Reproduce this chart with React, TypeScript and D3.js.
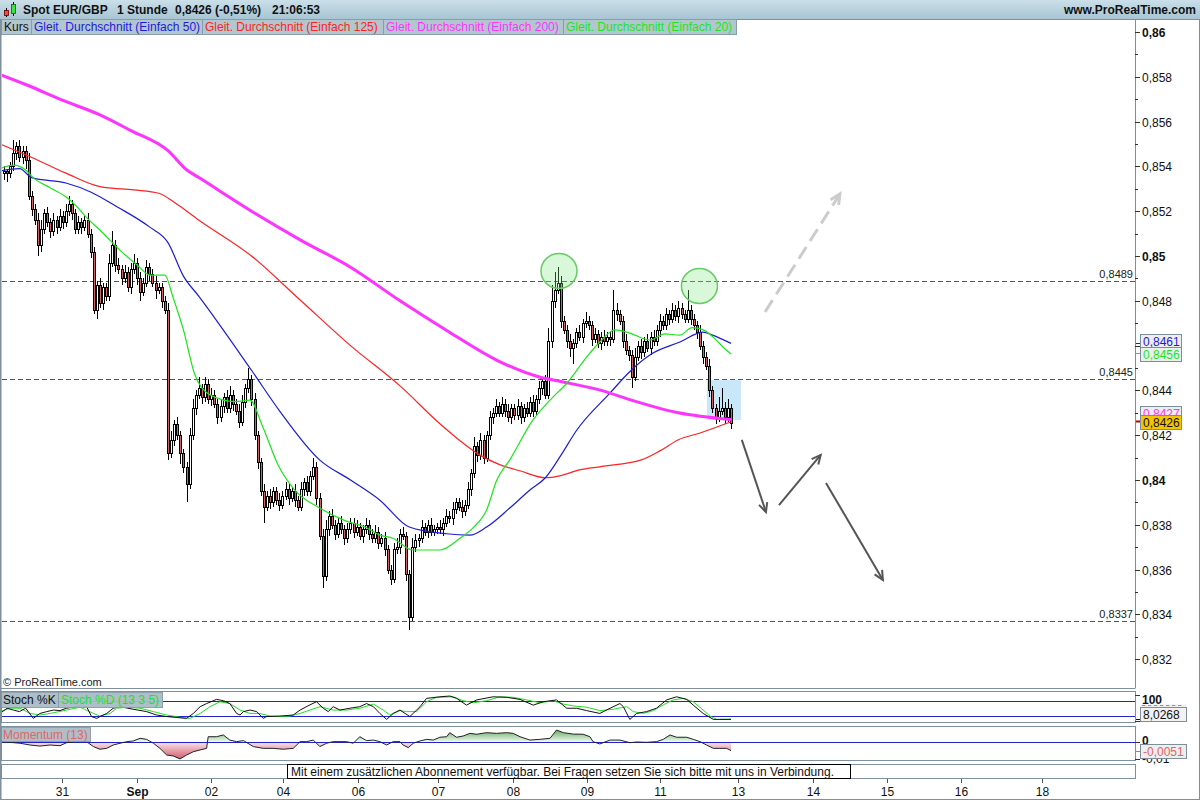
import React, { useEffect } from 'react';
import * as d3 from 'd3';

// ---------- DATA (prices in pips: price = 0.8 + v / 10000) ----------
const firstOpen = 537;
const closes = [
  538,537,540,546,549,544,547,543,527,521,
  516,505,512,519,515,511,516,513,518,515,
  520,523,519,512,515,513,516,510,502,476,
  487,479,486,482,497,505,496,494,490,493,
  486,494,497,490,484,488,495,492,488,485,
  486,480,476,412,418,425,420,412,406,398,
  420,432,438,441,437,443,436,438,434,428,
  433,437,432,438,434,431,426,435,441,445,
  436,420,408,395,388,393,390,395,391,389,
  393,396,392,395,391,388,396,399,395,402,
  406,392,375,357,378,384,380,376,381,378,
  374,378,381,377,379,375,378,380,376,374,
  377,372,374,369,360,356,369,370,376,375,
  358,339,370,373,374,379,377,380,377,378,
  379,378,381,384,383,387,390,388,386,389,
  396,403,415,411,418,410,420,428,430,433,
  430,434,431,428,432,429,433,428,432,430,
  435,431,436,441,444,438,462,480,485,488,
  471,467,462,459,461,466,464,470,471,469,
  463,465,461,464,462,464,463,476,474,471,
  462,458,456,446,455,460,457,462,459,464,
  462,467,471,469,474,472,476,473,477,474,
  472,476,472,469,466,460,455,451,440,432,
  428,431,432,428,432,425.6,
];
const upperWick = [
  2,1,2,6,2,3,2,2,3,2,
  2,3,4,2,3,2,3,2,3,2,
  3,4,2,2,3,2,2,3,2,2,
  2,3,2,2,4,6,2,3,2,3,
  2,3,4,2,3,2,3,2,2,3,
  2,2,2,3,4,2,3,2,2,2,
  3,4,2,5,2,3,2,3,2,2,
  3,2,3,4,2,2,3,3,2,5,
  2,3,2,2,3,2,3,2,2,3,
  2,3,2,2,3,2,3,2,3,2,
  4,2,2,3,4,2,3,2,2,3,
  2,3,2,2,3,2,2,3,2,2,
  3,2,2,3,2,2,3,4,2,3,
  2,2,4,3,2,3,2,2,3,2,
  2,3,2,3,2,3,2,2,3,2,
  3,2,4,2,3,2,2,3,2,3,
  2,3,2,3,2,2,3,2,2,3,
  2,3,2,3,2,3,6,7,8,7,
  3,2,2,3,2,2,3,2,4,2,
  2,3,2,2,3,2,2,9,3,2,
  2,3,2,2,4,2,3,2,3,2,
  3,2,3,2,3,2,3,2,3,2,
  2,9,2,2,2,3,2,2,3,2,
  2,6,9,3,4,2,
];
const lowerWick = [
  3,4,2,2,3,2,3,4,2,3,
  2,5,3,2,2,3,2,3,2,3,
  2,2,3,2,2,3,2,2,3,2,
  4,2,3,2,2,2,3,2,3,2,
  2,3,2,3,4,2,2,3,2,4,
  2,3,2,3,2,3,2,5,3,8,
  2,2,3,2,3,2,2,3,2,3,
  2,3,2,2,3,2,3,2,3,2,
  3,2,3,2,7,2,3,2,2,3,
  2,2,3,2,3,2,2,3,2,2,
  2,3,2,5,2,3,2,3,2,2,
  3,2,2,3,2,2,3,2,3,2,
  2,3,2,3,2,3,2,2,3,2,
  3,6,2,2,3,2,2,3,2,2,
  2,2,3,2,2,3,2,2,3,2,
  2,3,2,3,2,3,2,2,3,2,
  2,2,3,2,3,2,2,3,2,2,
  2,3,2,2,3,2,2,3,3,2,
  3,2,3,4,7,2,2,3,2,2,
  3,2,2,3,2,2,3,2,3,2,
  3,2,3,5,2,2,3,2,2,3,
  2,2,3,2,2,3,2,2,3,2,
  2,2,3,2,3,2,3,2,3,2,
  3,2,2,3,2,3,
];

// moving averages: [candle index, pips]
const ma20 = [[-1.3,539],[3,540.6],[7,538.4],[9.4,535],[15,530.4],[20.4,526],[23.6,522],[26.8,517],[31,511.6],[34.3,507],[38.5,501.3],[43,496],[47.2,491.5],[52,491.5],[54.6,481.7],[58,467],[61.7,447],[66.6,438],[74.7,435],[79.5,435.7],[83.4,424.6],[88.6,406.7],[94,395.5],[102,387.5],[110,382],[116.7,379],[121.5,375.4],[125.7,374],[132,368.75],[141,368.75],[147.4,374],[151.6,378.6],[156,386.6],[159.3,400],[163.5,409],[171,426.8],[176.5,435.7],[182,443.3],[188.4,455],[192.6,461.6],[197.5,467],[202.3,465.6],[208.8,462.5],[213.6,465.2],[218.5,464.7],[222.4,468],[226,467],[229.2,463.8],[232.4,459.4],[235,456.25]];
const ma50 = [[-1.3,538],[5,539],[9,535],[20,532.6],[28,528.6],[36.5,522],[47,513],[53,506],[58,491],[63,482],[80,449],[89,431],[102,409],[112,400],[121.5,391],[131,379],[143,376],[150.6,375.4],[156,379],[163.5,387.5],[170,395.5],[175,401],[180,411],[185,422],[196,439],[202,448],[209,456],[218.5,461.6],[226,466],[229,464.7],[235,461]];
const ma125 = [[-1.3,550],[9,544],[20,537],[31,531],[42,529.5],[50,528],[55,524],[63,516],[80,500],[96,480],[112,460],[128,442],[141,425],[147,418],[154,411],[160,407],[167,404],[175,401],[180,402],[186,404.5],[193,406],[206,409],[212,413],[218,418],[225,421],[235,426]];
const ma200 = [[-1.3,581],[8,576],[18,570],[31,563],[41,556],[53,547],[59,538.5],[63,535],[80,520],[96,507],[112,495],[128,480],[144,466],[160,453],[173,446],[180,444],[193,440],[202,436],[218,430],[235,427]];

// stochastic (%K, %D) and momentum (thousandths): [candle index, value]
const stochK = [[-1.3,31],[1,51],[3,44],[5,38],[7,51],[9.5,12],[11.6,31],[13.8,38],[16,44],[18.1,42],[20.2,51],[24.6,60],[26.7,57],[28.3,19],[30,12],[31,19],[33.2,31],[35.3,51],[37.5,57],[41.8,47],[46.1,38],[49.3,25],[52.6,19],[59,12],[61.2,31],[63.4,57],[65.5,69],[68.7,85],[70.9,80],[73,69],[75.2,31],[76.3,25],[77.4,38],[79.5,44],[81.7,38],[83.8,12],[84.9,19],[89.2,21],[93.5,25],[95.7,44],[98.9,64],[101,76],[103.2,51],[104.8,38],[106.4,57],[108.6,44],[111.8,51],[115,57],[117.2,69],[119.4,57],[121.5,31],[123.7,8],[125.8,31],[128,44],[131.2,19],[134.5,57],[136.6,89],[140.9,95],[144.1,98],[146.3,89],[149.5,63],[152.8,83],[158.1,95],[162.5,93],[166.8,85],[171.1,63],[174.3,76],[178.6,83],[181.9,51],[185.1,51],[188.3,42],[192.6,31],[195.9,51],[199.1,69],[200.2,57],[202.3,8],[204.5,31],[207.7,38],[210.9,51],[214.2,83],[217.4,95],[220.7,85],[222.8,63],[226,31],[229.3,8],[231.4,8],[235,8]];
const stochD = [[-1.3,38],[2,51],[5.2,51],[8.4,31],[11.6,25],[14.9,31],[20.2,44],[24.6,55],[28.9,31],[31,21],[34.3,31],[36.4,51],[39.7,55],[44,51],[48.3,38],[52.6,25],[56.9,16],[60.1,12],[63.4,31],[66.6,57],[69.8,76],[73,69],[76.3,44],[79.5,31],[82.7,31],[86,21],[89.2,19],[92.4,21],[95.7,31],[98.9,44],[102.1,57],[106.4,44],[110.7,44],[115,51],[119.4,67],[122.6,44],[124.7,25],[128,42],[130.1,38],[133.4,38],[136.6,76],[139.8,93],[145.2,95],[148.4,80],[151.7,72],[156,80],[160.3,95],[164.6,93],[169,83],[173.2,72],[177.5,80],[180.8,67],[184,60],[188.3,55],[192.6,42],[196.9,47],[201.3,57],[203.4,38],[206.7,31],[209.9,42],[213.1,64],[216.3,83],[219.6,89],[222.8,76],[226,44],[228.2,21],[230.4,8],[235,9]];
const momentum = [[-1.3,0],[1.9,-0.4],[5.2,-0.9],[8.4,-1.9],[11.6,-2.5],[14.9,-1.9],[18.1,-2.3],[20.2,-0.6],[23.5,0],[26.7,0],[28.9,-2.8],[31,-4.3],[33.2,-3.8],[35.3,-1.9],[37.5,-0.9],[39.7,0],[41.8,0.4],[44,1.9],[46.1,1.3],[48.3,-0.9],[50.4,-3.8],[52.6,-7.6],[54.7,-8.1],[56.9,-9.8],[59,-7.6],[61.2,-5.7],[63.4,-4.7],[65.5,-3.8],[66,2.8],[68.7,2.8],[70.9,3.8],[73,0.9],[75.2,0],[77.4,0.6],[80.6,-2.8],[83.8,-3.8],[87,-3.8],[90.3,-4.3],[93.5,-3.8],[95.7,0],[97.8,0],[100,0.9],[102.1,-2.8],[104.3,-0.9],[106.4,0],[110.7,0],[112.9,-0.9],[115,2.8],[117.2,0.6],[119.4,0.9],[121.5,0],[123.7,-1.9],[125.8,0],[128,0],[129,-1.9],[130.7,-3.4],[132.3,-0.9],[134.5,0.4],[136.6,1.3],[138.8,0.9],[140.9,2.5],[143.1,2.8],[144.1,5.1],[146.3,2.5],[148.4,3.2],[150.6,4.7],[152.8,4.2],[156,5.1],[159.2,4.7],[162.5,5.1],[164.6,4.7],[166.8,2.8],[170,0.9],[173.2,1.3],[176.5,1.9],[178.6,6.6],[180.8,5.1],[184,4.3],[187.2,4.2],[189.4,2.8],[190.4,0],[192.6,-1.3],[195.9,0.9],[199.1,0.9],[202.3,-0.6],[204.5,-0.2],[207.7,-0.4],[210.9,0],[213.1,1.3],[215.3,3.8],[217.4,2.5],[220.7,2.5],[222.8,1.3],[225,0],[227.1,-1.9],[229.3,-3.8],[231.4,-3.8],[233.6,-3.8],[235,-5.1]];

const priceTicks = [0.832,0.834,0.836,0.838,0.84,0.842,0.844,0.846,0.848,0.85,0.852,0.854,0.856,0.858,0.86];
const hiddenPriceLabels = [0.846]; // covered by the value boxes in the reference
const dateTickIdx = [18.8,42.9,66.8,90.1,114.5,140.2,164.4,188.3,212,237.3,261.4,285.5,309.5,335.6];
const dateTickLabels = ['31','Sep','02','04','06','07','08','09','11','13','14','15','16','18'];
const levels = [0.8489, 0.8445, 0.8337];
const lastValues = { ma50: 0.8461, ma20: 0.8456, ma200: 0.8427, close: 0.8426, stochK: 8.0268, mom: -0.0051 };

// annotations in (candle index, pips)
const ellipses = [[179.4, 493.3], [224.8, 486.6]];
const blueZone = [227.2, 238.2, 444.6, 426.8];
const dashedArrow = [[246, 475], [270.2, 527.7]];
const solidArrows = [
  [[238.5, 417.9], [246.3, 385.7]],
  [[250.5, 388.8], [264, 411.2]],
  [[265.7, 398.7], [284.1, 355.4]],
];

const FONT = 'Liberation Sans, Arial, sans-serif';
const C_BLUE = '#1c1cd6', C_RED = '#ff2323', C_MAG = '#ff33ff', C_GREEN = '#1de41d';
const BORDER = '#7f8f9c';

function fmt(v: number, digits?: number) {
  const s = digits != null ? v.toFixed(digits) : String(+v.toFixed(4));
  return s.replace('.', ',');
}

function arrowHead(x1: number, y1: number, x2: number, y2: number, len = 10, ang = 0.45) {
  const a = Math.atan2(y2 - y1, x2 - x1);
  const p1 = [x2 - len * Math.cos(a - ang), y2 - len * Math.sin(a - ang)];
  const p2 = [x2 - len * Math.cos(a + ang), y2 - len * Math.sin(a + ang)];
  return `M${p1[0]},${p1[1]}L${x2},${y2}L${p2[0]},${p2[1]}`;
}

export default function App() {
  useEffect(() => { document.body.style.margin = '0'; }, []);

  const x = d3.scaleLinear().domain([0, 235]).range([4, 731]);
  const yMain = d3.scaleLinear().domain([0.832, 0.86]).range([659.2, 32]);
  const yP = (v: number) => yMain(0.8 + v / 10000);
  const yStoch = d3.scaleLinear().domain([0, 100]).range([721.5, 695.5]);
  const yMom = d3.scaleLinear().domain([-0.01, 0.007]).range([759.3, 729.3]);

  const maLine = d3.line<number[]>().x(d => x(d[0])).y(d => yP(d[1])).curve(d3.curveMonotoneX);
  const stLine = d3.line<number[]>().x(d => x(d[0])).y(d => yStoch(d[1]));
  const momLine = d3.line<number[]>().x(d => x(d[0])).y(d => yMom(d[1] / 1000));
  const momArea = d3.area<number[]>().x(d => x(d[0])).y0(yMom(0)).y1(d => yMom(d[1] / 1000));

  const candles = closes.map((c, i) => {
    const o = i === 0 ? firstOpen : closes[i - 1];
    return { i, o, c, h: Math.max(o, c) + upperWick[i], l: Math.min(o, c) - lowerWick[i] };
  });

  const box = (key: string, bx: number, cy: number, w: number, text: string, color: string, bg: string) => (
    <g key={key}>
      <rect x={bx + 0.5} y={Math.round(cy - 7) + 0.5} width={w} height={14} fill={bg} stroke="#7d8d9a" />
      <text x={bx + 3} y={Math.round(cy - 7) + 12} fontSize={12} fill={color} fontFamily={FONT}>{text}</text>
    </g>
  );

  const zeroY = yMom(0);

  return (
    <svg width={1200} height={800} style={{ position: 'absolute', left: 0, top: 0, display: 'block', background: '#fff' }} fontFamily={FONT}>
      <defs>
        <linearGradient id="hdr" x1="0" y1="0" x2="0" y2="1">
          <stop offset="0" stopColor="#cadfe9" />
          <stop offset="1" stopColor="#a8c5d3" />
        </linearGradient>
        <linearGradient id="gpos" gradientUnits="userSpaceOnUse" x1="0" y1="729" x2="0" y2={zeroY}>
          <stop offset="0" stopColor="#5aa55a" />
          <stop offset="1" stopColor="#eef8ee" />
        </linearGradient>
        <linearGradient id="gneg" gradientUnits="userSpaceOnUse" x1="0" y1={zeroY} x2="0" y2="760">
          <stop offset="0" stopColor="#fbe6e9" />
          <stop offset="1" stopColor="#cf5468" />
        </linearGradient>
        <clipPath id="clipMain"><rect x={2} y={20} width={1133} height={668} /></clipPath>
        <clipPath id="clipSt"><rect x={2} y={692} width={1133} height={31} /></clipPath>
        <clipPath id="clipPos"><rect x={2} y={727} width={1133} height={zeroY - 727} /></clipPath>
        <clipPath id="clipNeg"><rect x={2} y={zeroY} width={1133} height={761 - zeroY} /></clipPath>
      </defs>

      {/* header */}
      <rect x={0} y={0} width={1200} height={19} fill="url(#hdr)" />
      <line x1={0} x2={1200} y1={19.5} y2={19.5} stroke={BORDER} />
      <line x1={6.5} x2={6.5} y1={8} y2={17} stroke="#000" />
      <rect x={4.5} y={10.5} width={4} height={5} fill="#e05050" stroke="#600" strokeWidth={0.8} />
      <line x1={13.5} x2={13.5} y1={2} y2={16} stroke="#000" />
      <rect x={11.5} y={4.5} width={4} height={9} fill="#40e040" stroke="#060" strokeWidth={0.8} />
      <text x={23} y={14} fontSize={12} fontWeight="bold" fill="#111">Spot EUR/GBP</text>
      <text x={117} y={14} fontSize={12} fontWeight="bold" fill="#111">1 Stunde</text>
      <text x={175} y={14} fontSize={12} fontWeight="bold" fill="#111">0,8426 (-0,51%)</text>
      <text x={272} y={14} fontSize={12} fontWeight="bold" fill="#111">21:06:53</text>
      <text x={1196} y={14} fontSize={12} fontWeight="bold" fill="#111" textAnchor="end">www.ProRealTime.com</text>

      {/* main panel frame */}
      <line x1={1135.5} x2={1135.5} y1={19} y2={688} stroke={BORDER} />
      <line x1={1} x2={1135.5} y1={688.5} y2={688.5} stroke={BORDER} />

      {/* support / resistance levels */}
      {levels.map(l => (
        <g key={l}>
          <line x1={2} x2={1135} y1={Math.round(yMain(l)) + 0.5} y2={Math.round(yMain(l)) + 0.5} stroke="#555" strokeDasharray="5,3" />
          <text x={1133} y={Math.round(yMain(l)) - 3} fontSize={11} textAnchor="end" fill="#222">{fmt(l, 4)}</text>
        </g>
      ))}

      <g clipPath="url(#clipMain)">
        {/* blue zone */}
        <rect x={x(blueZone[0])} y={yP(blueZone[2])} width={x(blueZone[1]) - x(blueZone[0])} height={yP(blueZone[3]) - yP(blueZone[2])} fill="#c8e7f8" />

        {/* candles */}
        {candles.map(d => {
          const cx = Math.round(x(d.i));
          const yt = Math.round(yP(Math.max(d.o, d.c)));
          let yb = Math.round(yP(Math.min(d.o, d.c)));
          if (yb - yt < 1) yb = yt + 1;
          return (
            <g key={d.i}>
              <line x1={cx + 0.5} x2={cx + 0.5} y1={Math.round(yP(d.h))} y2={Math.round(yP(d.l))} stroke="#000" />
              <rect x={cx - 0.5} y={yt + 0.5} width={2} height={yb - yt} fill={d.c >= d.o ? '#ffffff' : '#d06262'} stroke="#000" />
            </g>
          );
        })}

        {/* moving averages */}
        <path d={maLine(ma125 as any) || ''} fill="none" stroke={C_RED} strokeWidth={1.2} />
        <path d={maLine(ma50 as any) || ''} fill="none" stroke={C_BLUE} strokeWidth={1.2} />
        <path d={maLine(ma200 as any) || ''} fill="none" stroke={C_MAG} strokeWidth={3} />
        <path d={maLine(ma20 as any) || ''} fill="none" stroke={C_GREEN} strokeWidth={1.2} />

        {/* highlight circles */}
        {ellipses.map((e, k) => (
          <ellipse key={k} cx={x(e[0])} cy={yP(e[1])} rx={18} ry={17.5} fill="rgba(130,230,130,0.3)" stroke="#66cc66" strokeWidth={1.5} />
        ))}

        {/* scenario arrows */}
        <path d={`M${x(dashedArrow[0][0])},${yP(dashedArrow[0][1])}L${x(dashedArrow[1][0])},${yP(dashedArrow[1][1])}`} stroke="#cccccc" strokeWidth={3} strokeDasharray="14,7" fill="none" />
        <path d={arrowHead(x(dashedArrow[0][0]), yP(dashedArrow[0][1]), x(dashedArrow[1][0]), yP(dashedArrow[1][1]), 11)} stroke="#cccccc" strokeWidth={3} fill="none" />
        {solidArrows.map((a, k) => {
          const x1 = x(a[0][0]), y1 = yP(a[0][1]), x2 = x(a[1][0]), y2 = yP(a[1][1]);
          return (
            <g key={k}>
              <path d={`M${x1},${y1}L${x2},${y2}`} stroke="#555" strokeWidth={2} fill="none" />
              <path d={arrowHead(x1, y1, x2, y2, 10)} stroke="#555" strokeWidth={2} fill="none" />
            </g>
          );
        })}
      </g>

      {/* legend row */}
      {[
        { x0: 1, w: 30, t: 'Kurs', c: '#111' },
        { x0: 31, w: 171, t: 'Gleit. Durchschnitt (Einfach 50)', c: C_BLUE },
        { x0: 202, w: 181, t: 'Gleit. Durchschnitt (Einfach 125)', c: C_RED },
        { x0: 383, w: 180, t: 'Gleit. Durchschnitt (Einfach 200)', c: C_MAG },
        { x0: 563, w: 173, t: 'Gleit. Durchschnitt (Einfach 20)', c: C_GREEN },
      ].map(b => (
        <g key={b.t}>
          <rect x={b.x0 + 0.5} y={19.5} width={b.w} height={15} fill="#b2c6d0" stroke="#8a9cab" />
          <text x={b.x0 + 3} y={31} fontSize={12} fill={b.c}>{b.t}</text>
        </g>
      ))}

      <text x={3} y={686} fontSize={11} fill="#222">© ProRealTime.com</text>

      {/* right axis main */}
      {priceTicks.map(t => {
        const yy = Math.round(yMain(t)) + 0.5;
        const bold = Math.abs(t * 100 - Math.round(t * 100)) < 1e-6;
        const hidden = hiddenPriceLabels.some(h => Math.abs(h - t) < 1e-9);
        return (
          <g key={t}>
            <line x1={1135} x2={1140} y1={yy} y2={yy} stroke="#333" />
            <line x1={1135} x2={1138} y1={Math.round(yMain(t + 0.001)) + 0.5} y2={Math.round(yMain(t + 0.001)) + 0.5} stroke="#333" />
            {!hidden && <text x={1142} y={yy + 4.5} fontSize={12} fontWeight={bold ? 'bold' : 'normal'} fill="#111">{fmt(t)}</text>}
          </g>
        );
      })}
      <line x1={1136} x2={1141} y1={Math.round(yMain(lastValues.ma50)) + 0.5} y2={Math.round(yMain(lastValues.ma50)) + 0.5} stroke={C_BLUE} />
      <line x1={1136} x2={1141} y1={Math.round(yMain(lastValues.ma20)) - 1.5} y2={Math.round(yMain(lastValues.ma20)) - 1.5} stroke={C_GREEN} />
      <line x1={1136} x2={1141} y1={Math.round(yMain(lastValues.close)) - 0.5} y2={Math.round(yMain(lastValues.close)) - 0.5} stroke="#b00" strokeWidth={2} />
      {box('b50', 1140, yMain(lastValues.ma50) - 2, 41, fmt(lastValues.ma50, 4), C_BLUE, '#eeeeee')}
      {box('b20', 1140, yMain(lastValues.ma20) - 1, 41, fmt(lastValues.ma20, 4), C_GREEN, '#eeeeee')}
      {box('b200', 1140, yMain(lastValues.ma200) - 7, 41, fmt(lastValues.ma200, 4), C_MAG, '#eeeeee')}
      {box('bc', 1140, yMain(lastValues.close), 41, fmt(lastValues.close, 4), '#111', '#f5c400')}

      {/* stochastic panel */}
      <rect x={1.5} y={691.5} width={1134} height={31} fill="#fff" stroke={BORDER} />
      <line x1={2} x2={1135} y1={Math.round(yStoch(80)) + 0.5} y2={Math.round(yStoch(80)) + 0.5} stroke="#2222cc" />
      <line x1={2} x2={1135} y1={Math.round(yStoch(20)) + 0.5} y2={Math.round(yStoch(20)) + 0.5} stroke="#2222cc" />
      <g clipPath="url(#clipSt)">
        <path d={stLine(stochD as any) || ''} fill="none" stroke="#22e022" strokeWidth={1} />
        <path d={stLine(stochK as any) || ''} fill="none" stroke="#111" strokeWidth={1} />
      </g>
      <rect x={1.5} y={692.5} width={57} height={15} fill="#a9bcc7" stroke="#8a9cab" opacity={0.95} />
      <text x={3} y={704} fontSize={12} fill="#111">Stoch %K</text>
      <rect x={58.5} y={692.5} width={104} height={15} fill="#a9bcc7" stroke="#8a9cab" opacity={0.95} />
      <text x={61} y={704} fontSize={12} fill="#22e022">Stoch %D (13 3 5)</text>
      <line x1={1135} x2={1140} y1={695.5} y2={695.5} stroke="#333" />
      <line x1={1135} x2={1140} y1={721.5} y2={721.5} stroke="#333" />
      <text x={1142} y={704} fontSize={12} fontWeight="bold" fill="#111">100</text>
      <line x1={1136} x2={1141} y1={719.5} y2={719.5} stroke="#111" />
      <g>
        <rect x={1140.5} y={704.5} width={46} height={3} fill="#eeeeee" stroke="none" />
        <line x1={1142} x2={1184} y1={705.5} y2={705.5} stroke="#22e022" strokeDasharray="3,3" />
      </g>
      {box('sk', 1140, 714, 46, fmt(lastValues.stochK, 4), '#111', '#f2f2f2')}

      {/* momentum panel */}
      <rect x={1.5} y={726.5} width={1134} height={34} fill="#fff" stroke={BORDER} />
      <g clipPath="url(#clipPos)"><path d={momArea(momentum as any) || ''} fill="url(#gpos)" /></g>
      <g clipPath="url(#clipNeg)"><path d={momArea(momentum as any) || ''} fill="url(#gneg)" /></g>
      <line x1={2} x2={1135} y1={Math.round(zeroY) + 0.5} y2={Math.round(zeroY) + 0.5} stroke="#2222cc" />
      <path d={momLine(momentum as any) || ''} fill="none" stroke="#222" strokeWidth={1} />
      <rect x={1.5} y={727.5} width={89} height={14} fill="#a9bcc7" stroke="#8a9cab" opacity={0.95} />
      <text x={3} y={739} fontSize={12} fill="#e06666">Momentum (13)</text>
      <line x1={1135} x2={1140} y1={Math.round(zeroY) + 0.5} y2={Math.round(zeroY) + 0.5} stroke="#333" />
      <line x1={1135} x2={1140} y1={759.5} y2={759.5} stroke="#333" />
      <text x={1142} y={745} fontSize={12} fontWeight="bold" fill="#111">0</text>
      <text x={1142} y={763} fontSize={12} fill="#111">-0,01</text>
      <line x1={1136} x2={1141} y1={Math.round(yMom(lastValues.mom)) + 0.5} y2={Math.round(yMom(lastValues.mom)) + 0.5} stroke="#e06666" />
      {box('bm', 1140, yMom(lastValues.mom), 46, fmt(lastValues.mom, 4), '#e06666', '#eeeeee')}

      {/* notice panel */}
      <rect x={1.5} y={764.5} width={1134} height={14} fill="#fff" stroke={BORDER} />
      <rect x={287.5} y={764.5} width={563} height={14} fill="#fff" stroke="#000" />
      <text x={291} y={776} fontSize={12} fill="#111">Mit einem zusätzlichen Abonnement verfügbar. Bei Fragen setzen Sie sich bitte mit uns in Verbindung.</text>

      {/* x axis */}
      {dateTickIdx.map((t, k) => {
        const xx = Math.round(x(t)) + 0.5;
        return (
          <g key={k}>
            <line x1={xx} x2={xx} y1={779} y2={783} stroke="#555" />
            <text x={xx} y={796} fontSize={12} textAnchor="middle" fontWeight={dateTickLabels[k] === 'Sep' ? 'bold' : 'normal'} fill="#111">{dateTickLabels[k]}</text>
          </g>
        );
      })}

      {/* outer frame */}
      <line x1={0.5} x2={0.5} y1={19} y2={800} stroke={BORDER} strokeWidth={2} />
      <line x1={1199.5} x2={1199.5} y1={19} y2={800} stroke={BORDER} />
      <line x1={0} x2={1200} y1={799.5} y2={799.5} stroke={BORDER} />
    </svg>
  );
}
